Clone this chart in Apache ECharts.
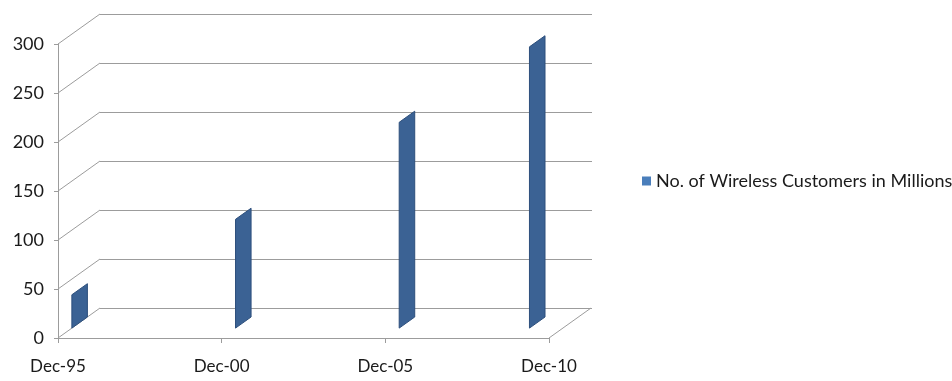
<!DOCTYPE html>
<html>
<head>
<meta charset="utf-8">
<script src="https://cdn.jsdelivr.net/npm/echarts@6/dist/echarts.min.js"></script>
<style>
  html, body { margin: 0; padding: 0; background: #ffffff; }
  #chart { width: 952px; height: 381px; }
</style>
</head>
<body>
<div id="chart"></div>
<script>
// Chart data
const categories = ['Dec-95', 'Dec-00', 'Dec-05', 'Dec-10'];
const customers = [34, 111, 210, 287];
const yTicks = [0, 50, 100, 150, 200, 250, 300];
const seriesName = 'No. of Wireless Customers in Millions';

// Oblique 3D box: how far the back wall sits behind the front plane
const DEPTH_X = 42;
const DEPTH_Y = -30;
// Each column is seen edge-on: only its side face, between these depth fractions
const FACE_NEAR = 0.33;
const FACE_FAR = 0.7;

const FRONT = { left: 58, top: 44, width: 491, height: 294 };
const LINE = '#9c9c9c';
const TEXT = '#1a1a1a';
const FONT = 'Lato';

const chart = echarts.init(document.getElementById('chart'), null, { renderer: 'canvas' });

// Diagonal depth edges: left wall at every y tick plus the right edge of the floor
const edgeData = yTicks.map(v => [0, v]).concat([[categories.length - 1, 0]]);

const option = {
  animation: false,
  backgroundColor: '#ffffff',
  grid: [
    { left: FRONT.left, top: FRONT.top, width: FRONT.width, height: FRONT.height },
    { left: FRONT.left + DEPTH_X, top: FRONT.top + DEPTH_Y, width: FRONT.width + 1, height: FRONT.height }
  ],
  xAxis: [
    {
      gridIndex: 0,
      type: 'category',
      data: categories,
      boundaryGap: false,
      axisLine: { lineStyle: { color: LINE, width: 1 } },
      axisTick: { length: 5, lineStyle: { color: LINE } },
      axisLabel: { color: TEXT, fontFamily: FONT, fontSize: 17, margin: 20 },
      splitLine: { show: false }
    },
    {
      gridIndex: 1,
      type: 'category',
      data: categories,
      boundaryGap: false,
      show: false
    }
  ],
  yAxis: [
    {
      gridIndex: 0,
      type: 'value',
      min: 0,
      max: 300,
      interval: 50,
      axisLine: { show: true, lineStyle: { color: LINE, width: 1 } },
      axisTick: { show: true, length: 4, lineStyle: { color: LINE } },
      axisLabel: { color: TEXT, fontFamily: FONT, fontSize: 18, margin: 14 },
      splitLine: { show: false }
    },
    {
      // back wall gridlines
      gridIndex: 1,
      type: 'value',
      min: 0,
      max: 300,
      interval: 50,
      axisLine: { show: false },
      axisTick: { show: false },
      axisLabel: { show: false },
      splitLine: { show: true, lineStyle: { color: LINE, width: 1 } }
    }
  ],
  legend: {
    data: [{ name: seriesName, icon: 'rect', itemStyle: { color: '#4a7ebb', borderWidth: 0 } }],
    left: 637,
    top: 167,
    itemWidth: 9,
    itemHeight: 9,
    selectedMode: false,
    textStyle: { color: TEXT, fontFamily: FONT, fontSize: 18 }
  },
  series: [
    {
      name: 'frame',
      type: 'custom',
      xAxisIndex: 0,
      yAxisIndex: 0,
      silent: true,
      z: 1,
      data: edgeData,
      encode: { x: 0, y: 1 },
      renderItem: function (params, api) {
        const p = api.coord([api.value(0), api.value(1)]);
        return {
          type: 'line',
          shape: { x1: p[0], y1: p[1], x2: p[0] + DEPTH_X, y2: p[1] + DEPTH_Y },
          style: { stroke: LINE, lineWidth: 1 }
        };
      }
    },
    {
      name: seriesName,
      type: 'custom',
      xAxisIndex: 0,
      yAxisIndex: 0,
      silent: true,
      z: 3,
      itemStyle: { color: '#3b6294' },
      data: customers.map((v, i) => [i, v]),
      encode: { x: 0, y: 1 },
      renderItem: function (params, api) {
        const i = api.value(0);
        const v = api.value(1);
        const top = api.coord([i, v]);
        const base = api.coord([i, 0]);
        const xEnd = api.coord([categories.length - 1, 0])[0];
        // keep the column inside the floor
        const shift = Math.min(0, xEnd - 4 - (base[0] + FACE_FAR * DEPTH_X));
        const nx = FACE_NEAR * DEPTH_X + shift, ny = FACE_NEAR * DEPTH_Y;
        const fx = FACE_FAR * DEPTH_X + shift, fy = FACE_FAR * DEPTH_Y;
        return {
          type: 'polygon',
          shape: {
            points: [
              [base[0] + nx, base[1] + ny],
              [base[0] + fx, base[1] + fy],
              [top[0] + fx, top[1] + fy],
              [top[0] + nx, top[1] + ny]
            ]
          },
          style: { fill: '#3b6294', stroke: '#2d4f7c', lineWidth: 1 }
        };
      }
    }
  ]
};

chart.setOption(option);
</script>
</body>
</html>
